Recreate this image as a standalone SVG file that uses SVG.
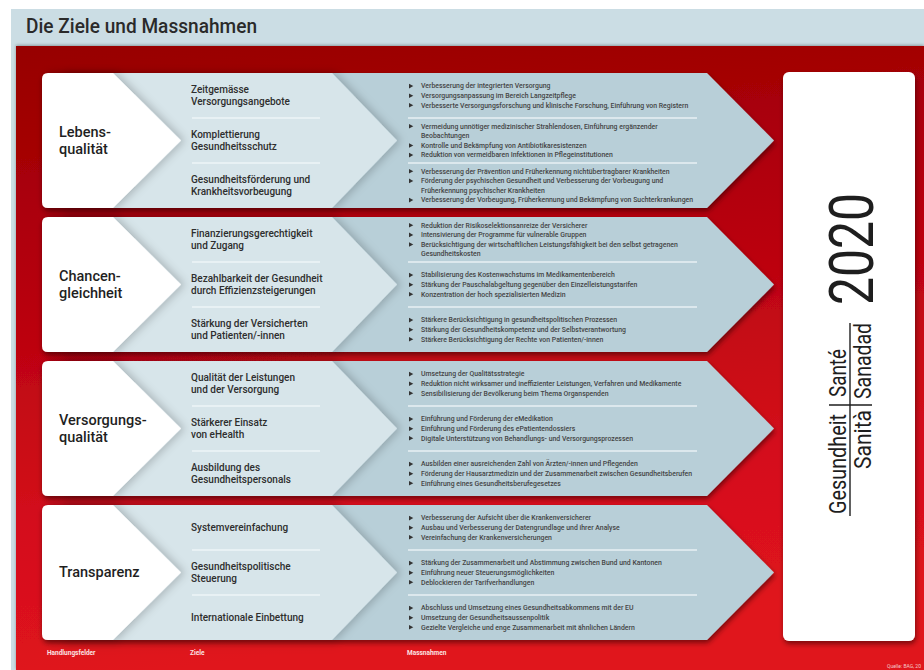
<svg xmlns="http://www.w3.org/2000/svg" xmlns:xlink="http://www.w3.org/1999/xlink" width="924" height="670" viewBox="0 0 924 670">
  <defs>
    <style>
      .title { font-family: Roboto, "Liberation Sans", sans-serif; font-weight: 500; font-size: 21px; fill: #2a2a2a; }
      .h { font-family: Roboto, "Liberation Sans", sans-serif; font-weight: 500; font-size: 14.5px; fill: #1f1f1f; }
      .z { font-family: Roboto, "Liberation Sans", sans-serif; font-weight: 500; font-size: 10px; fill: #2e2e2e; }
      .m { font-family: Roboto, "Liberation Sans", sans-serif; font-weight: 500; font-size: 6.9px; fill: #454545; }
      .foot { font-family: Roboto, "Liberation Sans", sans-serif; font-weight: 700; font-size: 6.5px; fill: #fbe2e2; }
      .src { font-family: Roboto, "Liberation Sans", sans-serif; font-size: 5px; fill: #f5caca; }
      .brand { font-family: Roboto, "Liberation Sans", sans-serif; font-size: 23px; fill: #1e1e1e; }
      .year { font-family: Roboto, "Liberation Sans", sans-serif; font-size: 62px; fill: #1e1e1e; }
      .white { fill: #ffffff; }
      .light { fill: #d7e5ea; }
      .dark { fill: #b8cfd8; }
      .sepz { stroke: #eef5f7; stroke-width: 1.5; }
      .sepm { stroke: #e9f1f4; stroke-width: 1.5; }
      .rule { stroke: #1e1e1e; stroke-width: 1.4; }
    </style>
    <linearGradient id="redBg" x1="0" y1="0" x2="0.15" y2="1">
      <stop offset="0" stop-color="#970000"/>
      <stop offset="0.35" stop-color="#b3000c"/>
      <stop offset="0.75" stop-color="#d40f1b"/>
      <stop offset="1" stop-color="#e0131f"/>
    </linearGradient>
    <filter id="rowShadow" x="-5%" y="-10%" width="112%" height="130%">
      <feDropShadow dx="1" dy="3" stdDeviation="2.5" flood-color="#2a0000" flood-opacity="0.55"/>
    </filter>
    <filter id="edgeShadow" x="-10%" y="-10%" width="130%" height="120%">
      <feDropShadow dx="4" dy="0" stdDeviation="4" flood-color="#000000" flood-opacity="0.2"/>
    </filter>
    <filter id="topShadow" x="-5%" y="-5%" width="110%" height="110%">
      <feDropShadow dx="0" dy="-1" stdDeviation="1.5" flood-color="#000000" flood-opacity="0.3"/>
    </filter>
    <path id="tri" d="M0,-2.3 L4.3,0 L0,2.3 Z" fill="#333333"/>
  </defs>

  <!-- page background -->
  <rect x="0" y="0" width="924" height="670" fill="#ffffff"/>
  <rect x="11" y="9" width="913" height="661" fill="#cbdde4"/>
  <text class="title" x="26" y="33" textLength="231" lengthAdjust="spacingAndGlyphs">Die Ziele und Massnahmen</text>
  <rect x="16" y="46" width="908" height="624" fill="url(#redBg)" filter="url(#topShadow)"/>

  <!-- row 1 -->
  <g id="row-lebensqualitaet" transform="translate(0,73)">
    <g filter="url(#rowShadow)">
      <path class="dark" d="M100,0 H707 L774,67.5 L707,135 H100 Z"/>
      <path class="light" filter="url(#edgeShadow)" d="M60,0 H332 L397,67.5 L332,135 H60 Z"/>
      <path class="white" filter="url(#edgeShadow)" d="M48,0 H113 L181,67.5 L113,135 H48 Q42,135 42,129 V6 Q42,0 48,0 Z"/>
    </g>
    <text class="h" x="59" y="63.5">Lebens-</text>
    <text class="h" x="59" y="80.5">qualität</text>
    <line class="sepz" x1="192" y1="45" x2="320" y2="45"/>
    <line class="sepz" x1="192" y1="90" x2="320" y2="90"/>
    <text class="z" x="191" y="20">Zeitgemässe</text>
    <text class="z" x="191" y="32.3">Versorgungsangebote</text>
    <text class="z" x="191" y="65">Komplettierung</text>
    <text class="z" x="191" y="77.3">Gesundheitsschutz</text>
    <text class="z" x="191" y="110">Gesundheitsförderung und</text>
    <text class="z" x="191" y="122.3">Krankheitsvorbeugung</text>
    <line class="sepm" x1="408" y1="45" x2="697" y2="45"/>
    <line class="sepm" x1="408" y1="90" x2="697" y2="90"/>
    <use href="#tri" x="409" y="13.1"/><text class="m" x="421" y="15.4">Verbesserung der integrierten Versorgung</text>
    <use href="#tri" x="409" y="22.7"/><text class="m" x="421" y="25">Versorgungsanpassung im Bereich Langzeitpflege</text>
    <use href="#tri" x="409" y="32.3"/><text class="m" x="421" y="34.6">Verbesserte Versorgungsforschung und klinische Forschung, Einführung von Registern</text>
    <use href="#tri" x="409" y="53.3"/><text class="m" x="421" y="55.6">Vermeidung unnötiger medizinischer Strahlendosen, Einführung ergänzender</text>
    <text class="m" x="421" y="65.2">Beobachtungen</text>
    <use href="#tri" x="409" y="72.5"/><text class="m" x="421" y="74.8">Kontrolle und Bekämpfung von Antibiotikaresistenzen</text>
    <use href="#tri" x="409" y="82.1"/><text class="m" x="421" y="84.4">Reduktion von vermeidbaren Infektionen in Pflegeinstitutionen</text>
    <use href="#tri" x="409" y="98.3"/><text class="m" x="421" y="100.6">Verbesserung der Prävention und Früherkennung nichtübertragbarer Krankheiten</text>
    <use href="#tri" x="409" y="107.9"/><text class="m" x="421" y="110.2">Förderung der psychischen Gesundheit und Verbesserung der Vorbeugung und</text>
    <text class="m" x="421" y="119.8">Früherkennung psychischer Krankheiten</text>
    <use href="#tri" x="409" y="127.1"/><text class="m" x="421" y="129.4">Verbesserung der Vorbeugung, Früherkennung und Bekämpfung von Suchterkrankungen</text>
  </g>

  <!-- row 2 -->
  <g id="row-chancengleichheit" transform="translate(0,217)">
    <g filter="url(#rowShadow)">
      <path class="dark" d="M100,0 H707 L774,67.5 L707,135 H100 Z"/>
      <path class="light" filter="url(#edgeShadow)" d="M60,0 H332 L397,67.5 L332,135 H60 Z"/>
      <path class="white" filter="url(#edgeShadow)" d="M48,0 H113 L181,67.5 L113,135 H48 Q42,135 42,129 V6 Q42,0 48,0 Z"/>
    </g>
    <text class="h" x="59" y="63.5">Chancen-</text>
    <text class="h" x="59" y="80.5">gleichheit</text>
    <line class="sepz" x1="192" y1="45" x2="320" y2="45"/>
    <line class="sepz" x1="192" y1="90" x2="320" y2="90"/>
    <text class="z" x="191" y="20">Finanzierungsgerechtigkeit</text>
    <text class="z" x="191" y="32.3">und Zugang</text>
    <text class="z" x="191" y="65">Bezahlbarkeit der Gesundheit</text>
    <text class="z" x="191" y="77.3">durch Effizienzsteigerungen</text>
    <text class="z" x="191" y="110">Stärkung der Versicherten</text>
    <text class="z" x="191" y="122.3">und Patienten/-innen</text>
    <line class="sepm" x1="408" y1="45" x2="697" y2="45"/>
    <line class="sepm" x1="408" y1="90" x2="697" y2="90"/>
    <use href="#tri" x="409" y="8.3"/><text class="m" x="421" y="10.6">Reduktion der Risikoselektionsanreize der Versicherer</text>
    <use href="#tri" x="409" y="17.9"/><text class="m" x="421" y="20.2">Intensivierung der Programme für vulnerable Gruppen</text>
    <use href="#tri" x="409" y="27.5"/><text class="m" x="421" y="29.8">Berücksichtigung der wirtschaftlichen Leistungsfähigkeit bei den selbst getragenen</text>
    <text class="m" x="421" y="39.4">Gesundheitskosten</text>
    <use href="#tri" x="409" y="58.1"/><text class="m" x="421" y="60.4">Stabilisierung des Kostenwachstums im Medikamentenbereich</text>
    <use href="#tri" x="409" y="67.7"/><text class="m" x="421" y="70">Stärkung der Pauschalabgeltung gegenüber den Einzelleistungstarifen</text>
    <use href="#tri" x="409" y="77.3"/><text class="m" x="421" y="79.6">Konzentration der hoch spezialisierten Medizin</text>
    <use href="#tri" x="409" y="103.1"/><text class="m" x="421" y="105.4">Stärkere Berücksichtigung in gesundheitspolitischen Prozessen</text>
    <use href="#tri" x="409" y="112.7"/><text class="m" x="421" y="115">Stärkung der Gesundheitskompetenz und der Selbstverantwortung</text>
    <use href="#tri" x="409" y="122.3"/><text class="m" x="421" y="124.6">Stärkere Berücksichtigung der Rechte von Patienten/-innen</text>
  </g>

  <!-- row 3 -->
  <g id="row-versorgungsqualitaet" transform="translate(0,361)">
    <g filter="url(#rowShadow)">
      <path class="dark" d="M100,0 H707 L774,67.5 L707,135 H100 Z"/>
      <path class="light" filter="url(#edgeShadow)" d="M60,0 H332 L397,67.5 L332,135 H60 Z"/>
      <path class="white" filter="url(#edgeShadow)" d="M48,0 H113 L181,67.5 L113,135 H48 Q42,135 42,129 V6 Q42,0 48,0 Z"/>
    </g>
    <text class="h" x="59" y="63.5">Versorgungs-</text>
    <text class="h" x="59" y="80.5">qualität</text>
    <line class="sepz" x1="192" y1="45" x2="320" y2="45"/>
    <line class="sepz" x1="192" y1="90" x2="320" y2="90"/>
    <text class="z" x="191" y="20">Qualität der Leistungen</text>
    <text class="z" x="191" y="32.3">und der Versorgung</text>
    <text class="z" x="191" y="65">Stärkerer Einsatz</text>
    <text class="z" x="191" y="77.3">von eHealth</text>
    <text class="z" x="191" y="110">Ausbildung des</text>
    <text class="z" x="191" y="122.3">Gesundheitspersonals</text>
    <line class="sepm" x1="408" y1="45" x2="697" y2="45"/>
    <line class="sepm" x1="408" y1="90" x2="697" y2="90"/>
    <use href="#tri" x="409" y="13.1"/><text class="m" x="421" y="15.4">Umsetzung der Qualitätsstrategie</text>
    <use href="#tri" x="409" y="22.7"/><text class="m" x="421" y="25">Reduktion nicht wirksamer und ineffizienter Leistungen, Verfahren und Medikamente</text>
    <use href="#tri" x="409" y="32.3"/><text class="m" x="421" y="34.6">Sensibilisierung der Bevölkerung beim Thema  Organspenden</text>
    <use href="#tri" x="409" y="58.1"/><text class="m" x="421" y="60.4">Einführung und Förderung der eMedikation</text>
    <use href="#tri" x="409" y="67.7"/><text class="m" x="421" y="70">Einführung und Förderung des ePatientendossiers</text>
    <use href="#tri" x="409" y="77.3"/><text class="m" x="421" y="79.6">Digitale Unterstützung von Behandlungs- und Versorgungsprozessen</text>
    <use href="#tri" x="409" y="103.1"/><text class="m" x="421" y="105.4">Ausbilden einer ausreichenden Zahl von Ärzten/-innen und Pflegenden</text>
    <use href="#tri" x="409" y="112.7"/><text class="m" x="421" y="115">Förderung der Hausarztmedizin und der Zusammenarbeit zwischen Gesundheitsberufen</text>
    <use href="#tri" x="409" y="122.3"/><text class="m" x="421" y="124.6">Einführung eines Gesundheitsberufegesetzes</text>
  </g>

  <!-- row 4 -->
  <g id="row-transparenz" transform="translate(0,505)">
    <g filter="url(#rowShadow)">
      <path class="dark" d="M100,0 H707 L774,67.5 L707,135 H100 Z"/>
      <path class="light" filter="url(#edgeShadow)" d="M60,0 H332 L397,67.5 L332,135 H60 Z"/>
      <path class="white" filter="url(#edgeShadow)" d="M48,0 H113 L181,67.5 L113,135 H48 Q42,135 42,129 V6 Q42,0 48,0 Z"/>
    </g>
    <text class="h" x="59" y="72">Transparenz</text>
    <line class="sepz" x1="192" y1="45" x2="320" y2="45"/>
    <line class="sepz" x1="192" y1="90" x2="320" y2="90"/>
    <text class="z" x="191" y="26">Systemvereinfachung</text>
    <text class="z" x="191" y="65">Gesundheitspolitische</text>
    <text class="z" x="191" y="77.3">Steuerung</text>
    <text class="z" x="191" y="116">Internationale Einbettung</text>
    <line class="sepm" x1="408" y1="45" x2="697" y2="45"/>
    <line class="sepm" x1="408" y1="90" x2="697" y2="90"/>
    <use href="#tri" x="409" y="13.1"/><text class="m" x="421" y="15.4">Verbesserung der Aufsicht über die Krankenversicherer</text>
    <use href="#tri" x="409" y="22.7"/><text class="m" x="421" y="25">Ausbau und Verbesserung der Datengrundlage und ihrer Analyse</text>
    <use href="#tri" x="409" y="32.3"/><text class="m" x="421" y="34.6">Vereinfachung der Krankenversicherungen</text>
    <use href="#tri" x="409" y="58.1"/><text class="m" x="421" y="60.4">Stärkung der Zusammenarbeit und Abstimmung zwischen Bund und Kantonen</text>
    <use href="#tri" x="409" y="67.7"/><text class="m" x="421" y="70">Einführung neuer Steuerungsmöglichkeiten</text>
    <use href="#tri" x="409" y="77.3"/><text class="m" x="421" y="79.6">Deblockieren der Tarifverhandlungen</text>
    <use href="#tri" x="409" y="103.1"/><text class="m" x="421" y="105.4">Abschluss und Umsetzung eines Gesundheitsabkommens mit der EU</text>
    <use href="#tri" x="409" y="112.7"/><text class="m" x="421" y="115">Umsetzung der Gesundheitsaussenpolitik</text>
    <use href="#tri" x="409" y="122.3"/><text class="m" x="421" y="124.6">Gezielte Vergleiche und enge Zusammenarbeit mit ähnlichen Ländern</text>
  </g>

  <!-- strategy badge on the right -->
  <g id="badge">
    <rect x="783" y="72" width="132" height="569" rx="6" fill="#ffffff" filter="url(#rowShadow)"/>
    <text class="year" transform="translate(873,305) rotate(-90)" textLength="112" lengthAdjust="spacingAndGlyphs">2020</text>
    <text class="brand" transform="translate(846,514) rotate(-90)" textLength="100" lengthAdjust="spacingAndGlyphs">Gesundheit</text>
    <text class="brand" transform="translate(846,397) rotate(-90)" textLength="48" lengthAdjust="spacingAndGlyphs">Santé</text>
    <text class="brand" transform="translate(871,469) rotate(-90)" textLength="59" lengthAdjust="spacingAndGlyphs">Sanità</text>
    <text class="brand" transform="translate(871,399) rotate(-90)" textLength="76" lengthAdjust="spacingAndGlyphs">Sanadad</text>
    <line class="rule" x1="850" y1="323" x2="850" y2="516"/>
    <line class="rule" x1="829" y1="405" x2="872" y2="405"/>
  </g>

  <!-- column captions -->
  <g id="captions">
    <text class="foot" x="47" y="655">Handlungsfelder</text>
    <text class="foot" x="190" y="655">Ziele</text>
    <text class="foot" x="407" y="655">Massnahmen</text>
    <text class="src" x="887" y="667.5">Quelle: BAG, 20</text>
  </g>
</svg>
